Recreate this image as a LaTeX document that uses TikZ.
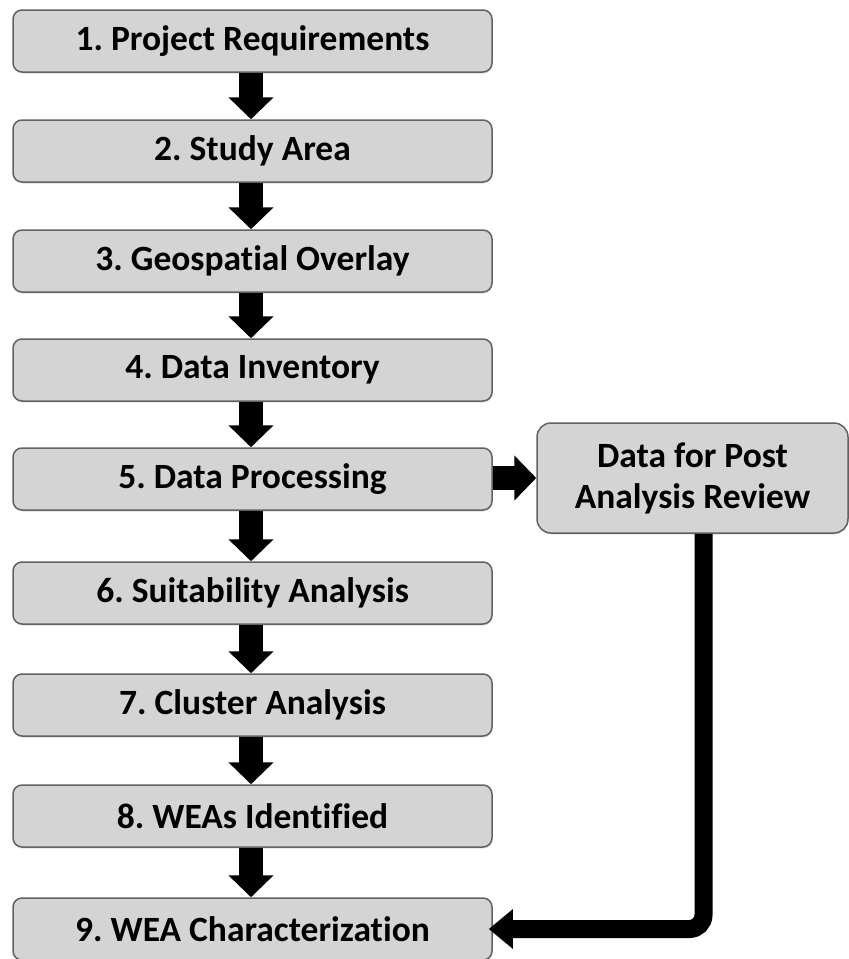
\documentclass[tikz,border=0pt]{standalone}
\usepackage{fontspec}
\setmainfont{Carlito}[Ligatures=NoCommon]
\frenchspacing
\usetikzlibrary{arrows.meta,shadows}
\definecolor{boxfill}{HTML}{D4D4D4}
\definecolor{boxline}{HTML}{626262}
\tikzset{
	stage/.style={draw=boxline, line width=1.5pt, fill=boxfill, rounded corners=9pt,
		minimum width=479pt, minimum height=62pt, inner sep=0pt,
		font=\fontsize{35.5}{41}\selectfont\bfseries,
		drop shadow={opacity=0.25, shadow xshift=0.5pt, shadow yshift=-1.5pt}},
	flow/.style={line width=24pt, -{Triangle[width=44pt, length=22pt]}},
	back/.style={line width=18pt, rounded corners=14pt, -{Triangle[width=38pt, length=24pt]}}
}
\begin{document}
\begin{tikzpicture}[x=1pt, y=-1pt]
		\useasboundingbox (0,0) rectangle (849,959);
		
		%Steps
		\node[stage] (S1) at (252.5,41) {1. Project Requirements};
		\node[stage] (S2) at (252.5,151) {2. Study Area};
		\node[stage] (S3) at (252.5,261) {3. Geospatial Overlay};
		\node[stage] (S4) at (252.5,370) {4. Data Inventory};
		\node[stage] (S5) at (252.5,479) {5. Data Processing};
		\node[stage] (S6) at (252.5,593) {6. Suitability Analysis};
		\node[stage] (S7) at (252.5,705) {7. Cluster Analysis};
		\node[stage] (S8) at (252.5,816) {8. WEAs Identified};
		\node[stage] (S9) at (252.5,929) {9. WEA Characterization};
		
		%Review box
		\node[stage, minimum width=311pt, minimum height=110pt, align=center, rounded corners=14pt] (R1) at (692.5,478) {Data for Post\\Analysis Review};
		
		%Arrows down
		\draw[flow] ([xshift=-1.5pt]S1.south) -- ([xshift=-1.5pt]S2.north);
		\draw[flow] ([xshift=-1.5pt]S2.south) -- ([xshift=-1.5pt]S3.north);
		\draw[flow] ([xshift=-1.5pt]S3.south) -- ([xshift=-1.5pt]S4.north);
		\draw[flow] ([xshift=-1.5pt]S4.south) -- ([xshift=-1.5pt]S5.north);
		\draw[flow] ([xshift=-1.5pt]S5.south) -- ([xshift=-1.5pt]S6.north);
		\draw[flow] ([xshift=-1.5pt]S6.south) -- ([xshift=-1.5pt]S7.north);
		\draw[flow] ([xshift=-1.5pt]S7.south) -- ([xshift=-1.5pt]S8.north);
		\draw[flow] ([xshift=-1.5pt]S8.south) -- ([xshift=-1.5pt]S9.north);
		
		%Arrow to review
		\draw[flow] (S5.east |- R1.west) -- (R1.west);
		
		%Review back to step 9
		\draw[back] ([xshift=11pt]R1.south) |- ([xshift=-4pt]S9.east);
	\end{tikzpicture}
\end{document}
